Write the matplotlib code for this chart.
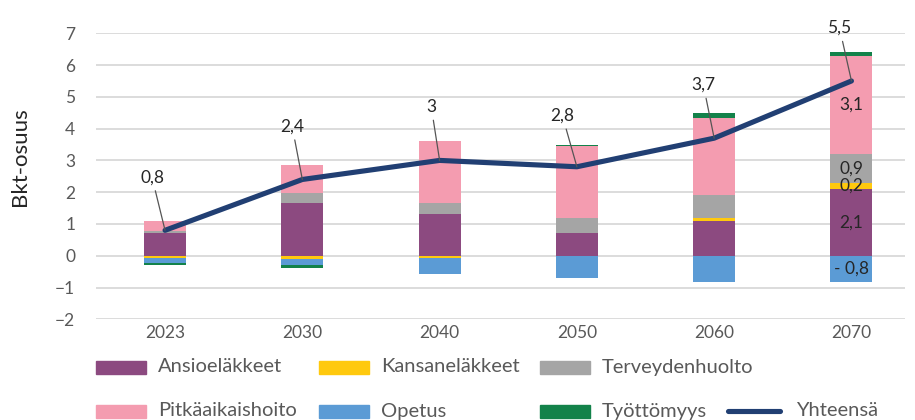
import matplotlib
matplotlib.use("Agg")
import matplotlib.pyplot as plt
from matplotlib.patches import Rectangle
from matplotlib.lines import Line2D
import numpy as np

plt.rcParams['font.family'] = ['Lato', 'DejaVu Sans']

years = ['2023', '2030', '2040', '2050', '2060', '2070']
ansio = [0.72, 1.66, 1.30, 0.72, 1.08, 2.1]
kansa = [-0.08, -0.09, -0.08, 0.0, 0.12, 0.2]
terveys = [0.06, 0.31, 0.36, 0.47, 0.70, 0.9]
pitka = [0.30, 0.90, 1.94, 2.27, 2.45, 3.1]
opetus = [-0.14, -0.19, -0.49, -0.70, -0.82, -0.82]
tyott = [-0.06, -0.11, 0.0, 0.04, 0.13, 0.1]
yhteensa = [0.8, 2.4, 3.0, 2.8, 3.7, 5.5]
total_labels = ['0,8', '2,4', '3', '2,8', '3,7', '5,5']
label_pos = [(-0.095, 2.47), (0.926, 4.07), (1.939, 4.69), (2.894, 4.41), (3.921, 5.38), (4.913, 7.17)]
seg_labels_2070 = {'Ansioeläkkeet': '2,1', 'Kansaneläkkeet': '0,2', 'Terveydenhuolto': '0,9',
                   'Pitkäaikaishoito': '3,1', 'Opetus': '- 0,8'}

series = [('Ansioeläkkeet', ansio, '#8C4A80'),
          ('Kansaneläkkeet', kansa, '#FFC90E'),
          ('Terveydenhuolto', terveys, '#A5A5A5'),
          ('Pitkäaikaishoito', pitka, '#F49CB0'),
          ('Opetus', opetus, '#5B9BD5'),
          ('Työttömyys', tyott, '#13824A')]
line_color = '#213F73'
txt_gray = '#595959'

fig = plt.figure(figsize=(9.15, 4.2), dpi=100)
ax = fig.add_axes([96/915, 100.7/420, (905-96)/915, (319.3-33.3)/420])

x = np.arange(len(years))
pos_base = np.zeros(len(years))
neg_base = np.zeros(len(years))
w = 0.306
for name, vals, col in series:
    v = np.array(vals)
    bottoms = np.where(v >= 0, pos_base, neg_base)
    ax.bar(x, v, w, bottom=bottoms, color=col, zorder=2, linewidth=0)
    if name in seg_labels_2070:
        i = len(years) - 1
        ax.text(x[i], bottoms[i] + v[i] / 2, seg_labels_2070[name], ha='center', va='center',
                fontsize=12.5, color='#262626', zorder=5)
    pos_base = pos_base + np.where(v >= 0, v, 0)
    neg_base = neg_base + np.where(v < 0, v, 0)

ax.plot(x, yhteensa, color=line_color, lw=3.7, zorder=3, solid_capstyle='round')

for i, (lab, (lx, ly)) in enumerate(zip(total_labels, label_pos)):
    ax.annotate(lab, xy=(x[i], yhteensa[i]), xytext=(lx, ly), ha='center', va='center',
                fontsize=12.5, color='#262626', annotation_clip=False, zorder=6,
                arrowprops=dict(arrowstyle='-', color='#555555', lw=0.9, shrinkA=2, shrinkB=0))

ax.set_xlim(-0.503, 5.39)
ax.set_ylim(-2, 7)
ax.set_yticks(range(-2, 8))
ax.set_xticks(x)
ax.set_xticklabels(years)
ax.yaxis.grid(True, color='#D9D9D9', lw=1.3, zorder=0)
ax.set_axisbelow(True)
for s in ax.spines.values():
    s.set_visible(False)
ax.tick_params(axis='y', length=0, pad=15, labelsize=12.5, labelcolor=txt_gray)
ax.tick_params(axis='x', length=0, pad=4, labelsize=12.5, labelcolor=txt_gray)

fig.text(20/915, 1 - 157/420, 'Bkt-osuus', rotation=90, ha='center', va='center',
         fontsize=16, color='#262626')

# legend
def px2fig(px, py):
    return px / 915, 1 - py / 420

legend_items = [
    ('Ansioeläkkeet', '#8C4A80', 96, 367, 'patch'),
    ('Kansaneläkkeet', '#FFC90E', 319, 367, 'patch'),
    ('Terveydenhuolto', '#A5A5A5', 540, 367, 'patch'),
    ('Pitkäaikaishoito', '#F49CB0', 96, 411, 'patch'),
    ('Opetus', '#5B9BD5', 319, 411, 'patch'),
    ('Työttömyys', '#13824A', 540, 411, 'patch'),
    ('Yhteensä', line_color, 728, 411, 'line'),
]
for name, col, px, py, kind in legend_items:
    if kind == 'patch':
        fx, fy = px2fig(px, py + 6.5)
        fig.patches.append(Rectangle((fx, fy), 50/915, 13/420, transform=fig.transFigure,
                                     color=col, figure=fig))
        tx = px + 62
    else:
        fx0, fy0 = px2fig(px, py)
        fx1, _ = px2fig(px + 52, py)
        fig.lines.append(Line2D([fx0, fx1], [fy0, fy0], transform=fig.transFigure,
                                color=col, lw=3.7, solid_capstyle='round', figure=fig))
        tx = px + 68
    tfx, tfy = px2fig(tx, py)
    fig.text(tfx, tfy, name, ha='left', va='center', fontsize=14.5, color=txt_gray)

fig.savefig('out.png', dpi=100)
